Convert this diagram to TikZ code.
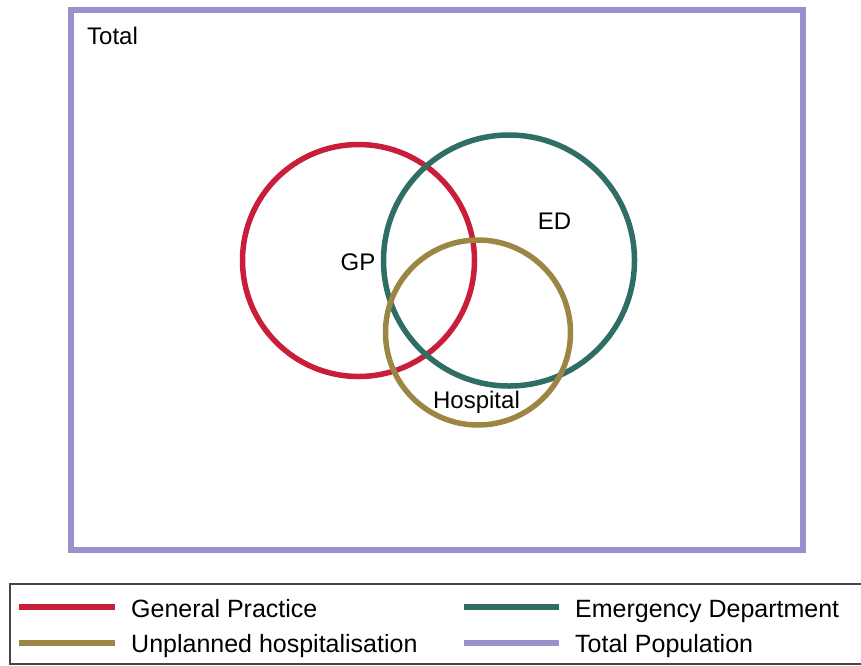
\documentclass[tikz,border=0pt]{standalone}
\usepackage{fontspec}
\setmainfont{Liberation Sans}
\definecolor{gpred}{RGB}{200,30,58}
\definecolor{edgreen}{RGB}{46,110,100}
\definecolor{hospgold}{RGB}{155,134,68}
\definecolor{totpurple}{RGB}{155,143,204}
\definecolor{legframe}{RGB}{70,70,70}
\begin{document}
\begin{tikzpicture}[x=1pt,y=-1pt,
  setcircle/.style={circle,draw=#1,line width=5.5pt,inner sep=0pt,fill=none},
  lbl/.style={font=\fontsize{24}{28}\selectfont,inner sep=0pt,anchor=base},
  leglbl/.style={font=\fontsize{25}{28}\selectfont,inner sep=0pt,anchor=base west},
  legline/.style={draw=#1,line width=6pt}]
\useasboundingbox (0,0) rectangle (861,665);
% total population frame
\draw[totpurple,line width=6pt] (71,10) rectangle (803,550);
\node[lbl,anchor=base west] (total) at (87,44) {Total};
% circles
\node[setcircle=gpred,minimum size=232pt] (gp) at (358.5,260.5) {};
\node[setcircle=edgreen,minimum size=251pt] (ed) at (509,260.5) {};
\node[setcircle=hospgold,minimum size=185pt] (hosp) at (478,332.5) {};
% labels
\node[lbl] (gplbl) at (358,270) {GP};
\node[lbl] (edlbl) at (554.5,229) {ED};
\node[lbl] (hosplbl) at (476.5,408) {Hospital};
% legend frame
\draw[legframe,line width=1.5pt] (862,584) -- (10,584) -- (10,664) -- (862,664);
% legend entries
\coordinate (l1a) at (19,606.5); \coordinate (l1b) at (115,606.5);
\coordinate (l2a) at (19,642.5); \coordinate (l2b) at (115,642.5);
\coordinate (l3a) at (464,607); \coordinate (l3b) at (559,607);
\coordinate (l4a) at (464,643); \coordinate (l4b) at (559,643);
\draw[legline=gpred] (l1a) -- (l1b);
\draw[legline=hospgold] (l2a) -- (l2b);
\draw[legline=edgreen] (l3a) -- (l3b);
\draw[legline=totpurple] (l4a) -- (l4b);
\node[leglbl] (t1) at (131,617) {General Practice};
\node[leglbl] (t2) at (131,652) {Unplanned hospitalisation};
\node[leglbl] (t3) at (575,617) {Emergency Department};
\node[leglbl] (t4) at (575,652) {Total Population};
\end{tikzpicture}
\end{document}
